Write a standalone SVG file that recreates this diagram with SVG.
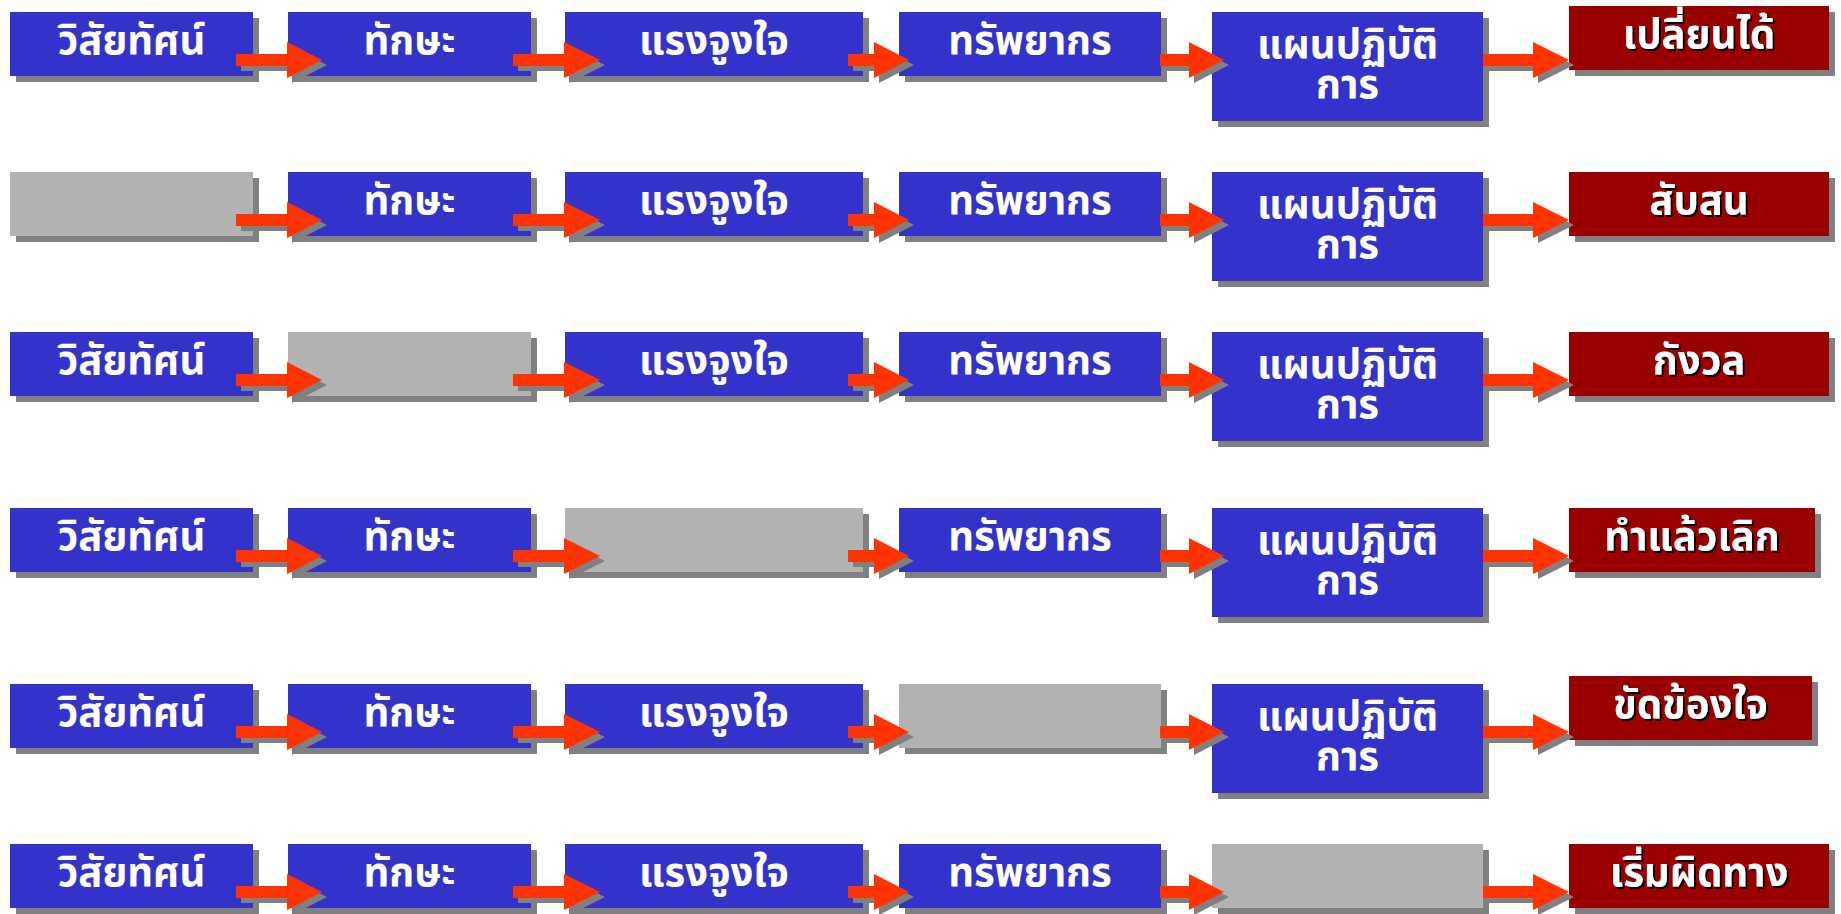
<svg xmlns="http://www.w3.org/2000/svg" xmlns:xlink="http://www.w3.org/1999/xlink" width="1841" height="914" viewBox="0 0 1841 914">
  <style>
    .sh { fill: #808080; }
    .blue { fill: #3333cc; }
    .gray { fill: #b2b2b2; }
    .red { fill: #990000; }
    .arrow { fill: #ff3300; }
    .t { font-family: Tahoma, "Noto Sans Thai", "Loma", "Garuda", "Noto Sans", "DejaVu Sans", sans-serif; font-weight: bold; font-size: 40px; fill: #ffffff; text-anchor: middle; }
    .rt { filter: url(#txtShadow); }
  </style>
  <defs>
    <filter id="txtShadow" x="-10%" y="-20%" width="130%" height="150%">
      <feDropShadow dx="2" dy="2" stdDeviation="0" flood-color="#000000" flood-opacity="1"/>
    </filter>
    <!-- arrow shapes between column pairs, drawn at row offset 0 -->
    <path id="a1" d="M236 42H287V30L322 48L287 66V54H236Z"/>
    <path id="a2" d="M513 42H564V30L600 48L564 66V54H513Z"/>
    <path id="a3" d="M848 42H874V30L909 48L874 66V54H848Z"/>
    <path id="a4" d="M1160 42H1189V30L1224 48L1189 66V54H1160Z"/>
    <path id="a5" d="M1483 42H1533V30L1569 48L1533 66V54H1483Z"/>
  </defs>

  <!-- ===== Row 1 ===== -->
  <g id="r1-vision"><rect class="sh" x="16" y="18" width="243" height="64"/><rect class="blue" x="10" y="12" width="243" height="64"/><text class="t" x="131.5" y="54">วิสัยทัศน์</text></g>
  <g id="r1-skill"><rect class="sh" x="294" y="18" width="243" height="64"/><rect class="blue" x="288" y="12" width="243" height="64"/><text class="t" x="409.5" y="54">ทักษะ</text></g>
  <g id="r1-motivation"><rect class="sh" x="571" y="18" width="298" height="64"/><rect class="blue" x="565" y="12" width="298" height="64"/><text class="t" x="714" y="54">แรงจูงใจ</text></g>
  <g id="r1-resources"><rect class="sh" x="905" y="18" width="262" height="64"/><rect class="blue" x="899" y="12" width="262" height="64"/><text class="t" x="1030" y="54">ทรัพยากร</text></g>
  <g id="r1-plan"><rect class="sh" x="1218" y="18" width="271" height="109"/><rect class="blue" x="1212" y="12" width="271" height="109"/><text class="t" x="1347.5" y="58">แผนปฏิบัติ<tspan x="1347.5" dy="40">การ</tspan></text></g>
  <g id="r1-result"><rect class="sh" x="1575" y="12" width="260" height="64"/><rect class="red" x="1569" y="6" width="260" height="64"/><text class="t rt" x="1699" y="48">เปลี่ยนได้</text></g>

  <!-- ===== Row 2 ===== -->
  <g id="r2-vision"><rect class="sh" x="16" y="178" width="243" height="64"/><rect class="gray" x="10" y="172" width="243" height="64"/></g>
  <g id="r2-skill"><rect class="sh" x="294" y="178" width="243" height="64"/><rect class="blue" x="288" y="172" width="243" height="64"/><text class="t" x="409.5" y="214">ทักษะ</text></g>
  <g id="r2-motivation"><rect class="sh" x="571" y="178" width="298" height="64"/><rect class="blue" x="565" y="172" width="298" height="64"/><text class="t" x="714" y="214">แรงจูงใจ</text></g>
  <g id="r2-resources"><rect class="sh" x="905" y="178" width="262" height="64"/><rect class="blue" x="899" y="172" width="262" height="64"/><text class="t" x="1030" y="214">ทรัพยากร</text></g>
  <g id="r2-plan"><rect class="sh" x="1218" y="178" width="271" height="109"/><rect class="blue" x="1212" y="172" width="271" height="109"/><text class="t" x="1347.5" y="218">แผนปฏิบัติ<tspan x="1347.5" dy="40">การ</tspan></text></g>
  <g id="r2-result"><rect class="sh" x="1575" y="178" width="260" height="64"/><rect class="red" x="1569" y="172" width="260" height="64"/><text class="t rt" x="1699" y="214">สับสน</text></g>

  <!-- ===== Row 3 ===== -->
  <g id="r3-vision"><rect class="sh" x="16" y="338" width="243" height="64"/><rect class="blue" x="10" y="332" width="243" height="64"/><text class="t" x="131.5" y="374">วิสัยทัศน์</text></g>
  <g id="r3-skill"><rect class="sh" x="294" y="338" width="243" height="64"/><rect class="gray" x="288" y="332" width="243" height="64"/></g>
  <g id="r3-motivation"><rect class="sh" x="571" y="338" width="298" height="64"/><rect class="blue" x="565" y="332" width="298" height="64"/><text class="t" x="714" y="374">แรงจูงใจ</text></g>
  <g id="r3-resources"><rect class="sh" x="905" y="338" width="262" height="64"/><rect class="blue" x="899" y="332" width="262" height="64"/><text class="t" x="1030" y="374">ทรัพยากร</text></g>
  <g id="r3-plan"><rect class="sh" x="1218" y="338" width="271" height="109"/><rect class="blue" x="1212" y="332" width="271" height="109"/><text class="t" x="1347.5" y="378">แผนปฏิบัติ<tspan x="1347.5" dy="40">การ</tspan></text></g>
  <g id="r3-result"><rect class="sh" x="1575" y="338" width="260" height="64"/><rect class="red" x="1569" y="332" width="260" height="64"/><text class="t rt" x="1699" y="374">กังวล</text></g>

  <!-- ===== Row 4 ===== -->
  <g id="r4-vision"><rect class="sh" x="16" y="514" width="243" height="64"/><rect class="blue" x="10" y="508" width="243" height="64"/><text class="t" x="131.5" y="550">วิสัยทัศน์</text></g>
  <g id="r4-skill"><rect class="sh" x="294" y="514" width="243" height="64"/><rect class="blue" x="288" y="508" width="243" height="64"/><text class="t" x="409.5" y="550">ทักษะ</text></g>
  <g id="r4-motivation"><rect class="sh" x="571" y="514" width="298" height="64"/><rect class="gray" x="565" y="508" width="298" height="64"/></g>
  <g id="r4-resources"><rect class="sh" x="905" y="514" width="262" height="64"/><rect class="blue" x="899" y="508" width="262" height="64"/><text class="t" x="1030" y="550">ทรัพยากร</text></g>
  <g id="r4-plan"><rect class="sh" x="1218" y="514" width="271" height="109"/><rect class="blue" x="1212" y="508" width="271" height="109"/><text class="t" x="1347.5" y="554">แผนปฏิบัติ<tspan x="1347.5" dy="40">การ</tspan></text></g>
  <g id="r4-result"><rect class="sh" x="1575" y="514" width="246" height="64"/><rect class="red" x="1569" y="508" width="246" height="64"/><text class="t rt" x="1692" y="550">ทำแล้วเลิก</text></g>

  <!-- ===== Row 5 ===== -->
  <g id="r5-vision"><rect class="sh" x="16" y="690" width="243" height="64"/><rect class="blue" x="10" y="684" width="243" height="64"/><text class="t" x="131.5" y="726">วิสัยทัศน์</text></g>
  <g id="r5-skill"><rect class="sh" x="294" y="690" width="243" height="64"/><rect class="blue" x="288" y="684" width="243" height="64"/><text class="t" x="409.5" y="726">ทักษะ</text></g>
  <g id="r5-motivation"><rect class="sh" x="571" y="690" width="298" height="64"/><rect class="blue" x="565" y="684" width="298" height="64"/><text class="t" x="714" y="726">แรงจูงใจ</text></g>
  <g id="r5-resources"><rect class="sh" x="905" y="690" width="262" height="64"/><rect class="gray" x="899" y="684" width="262" height="64"/></g>
  <g id="r5-plan"><rect class="sh" x="1218" y="690" width="271" height="109"/><rect class="blue" x="1212" y="684" width="271" height="109"/><text class="t" x="1347.5" y="730">แผนปฏิบัติ<tspan x="1347.5" dy="40">การ</tspan></text></g>
  <g id="r5-result"><rect class="sh" x="1575" y="682" width="243" height="64"/><rect class="red" x="1569" y="676" width="243" height="64"/><text class="t rt" x="1690.5" y="718">ขัดข้องใจ</text></g>

  <!-- ===== Row 6 ===== -->
  <g id="r6-vision"><rect class="sh" x="16" y="850" width="243" height="64"/><rect class="blue" x="10" y="844" width="243" height="64"/><text class="t" x="131.5" y="886">วิสัยทัศน์</text></g>
  <g id="r6-skill"><rect class="sh" x="294" y="850" width="243" height="64"/><rect class="blue" x="288" y="844" width="243" height="64"/><text class="t" x="409.5" y="886">ทักษะ</text></g>
  <g id="r6-motivation"><rect class="sh" x="571" y="850" width="298" height="64"/><rect class="blue" x="565" y="844" width="298" height="64"/><text class="t" x="714" y="886">แรงจูงใจ</text></g>
  <g id="r6-resources"><rect class="sh" x="905" y="850" width="262" height="64"/><rect class="blue" x="899" y="844" width="262" height="64"/><text class="t" x="1030" y="886">ทรัพยากร</text></g>
  <g id="r6-plan"><rect class="sh" x="1218" y="850" width="271" height="64"/><rect class="gray" x="1212" y="844" width="271" height="64"/></g>
  <g id="r6-result"><rect class="sh" x="1575" y="850" width="260" height="64"/><rect class="red" x="1569" y="844" width="260" height="64"/><text class="t rt" x="1699" y="886">เริ่มผิดทาง</text></g>

  <!-- ===== Connectors: block arrows with offset shadows ===== -->
  <g id="connectors">
    <g id="row1-arrows" transform="translate(0 12)">
      <use xlink:href="#a1" class="sh" x="5" y="5"/><use xlink:href="#a1" class="arrow"/>
      <use xlink:href="#a2" class="sh" x="5" y="5"/><use xlink:href="#a2" class="arrow"/>
      <use xlink:href="#a3" class="sh" x="5" y="5"/><use xlink:href="#a3" class="arrow"/>
      <use xlink:href="#a4" class="sh" x="5" y="5"/><use xlink:href="#a4" class="arrow"/>
      <use xlink:href="#a5" class="sh" x="5" y="5"/><use xlink:href="#a5" class="arrow"/>
    </g>
    <g id="row2-arrows" transform="translate(0 172)">
      <use xlink:href="#a1" class="sh" x="5" y="5"/><use xlink:href="#a1" class="arrow"/>
      <use xlink:href="#a2" class="sh" x="5" y="5"/><use xlink:href="#a2" class="arrow"/>
      <use xlink:href="#a3" class="sh" x="5" y="5"/><use xlink:href="#a3" class="arrow"/>
      <use xlink:href="#a4" class="sh" x="5" y="5"/><use xlink:href="#a4" class="arrow"/>
      <use xlink:href="#a5" class="sh" x="5" y="5"/><use xlink:href="#a5" class="arrow"/>
    </g>
    <g id="row3-arrows" transform="translate(0 332)">
      <use xlink:href="#a1" class="sh" x="5" y="5"/><use xlink:href="#a1" class="arrow"/>
      <use xlink:href="#a2" class="sh" x="5" y="5"/><use xlink:href="#a2" class="arrow"/>
      <use xlink:href="#a3" class="sh" x="5" y="5"/><use xlink:href="#a3" class="arrow"/>
      <use xlink:href="#a4" class="sh" x="5" y="5"/><use xlink:href="#a4" class="arrow"/>
      <use xlink:href="#a5" class="sh" x="5" y="5"/><use xlink:href="#a5" class="arrow"/>
    </g>
    <g id="row4-arrows" transform="translate(0 508)">
      <use xlink:href="#a1" class="sh" x="5" y="5"/><use xlink:href="#a1" class="arrow"/>
      <use xlink:href="#a2" class="sh" x="5" y="5"/><use xlink:href="#a2" class="arrow"/>
      <use xlink:href="#a3" class="sh" x="5" y="5"/><use xlink:href="#a3" class="arrow"/>
      <use xlink:href="#a4" class="sh" x="5" y="5"/><use xlink:href="#a4" class="arrow"/>
      <use xlink:href="#a5" class="sh" x="5" y="5"/><use xlink:href="#a5" class="arrow"/>
    </g>
    <g id="row5-arrows" transform="translate(0 684)">
      <use xlink:href="#a1" class="sh" x="5" y="5"/><use xlink:href="#a1" class="arrow"/>
      <use xlink:href="#a2" class="sh" x="5" y="5"/><use xlink:href="#a2" class="arrow"/>
      <use xlink:href="#a3" class="sh" x="5" y="5"/><use xlink:href="#a3" class="arrow"/>
      <use xlink:href="#a4" class="sh" x="5" y="5"/><use xlink:href="#a4" class="arrow"/>
      <use xlink:href="#a5" class="sh" x="5" y="5"/><use xlink:href="#a5" class="arrow"/>
    </g>
    <g id="row6-arrows" transform="translate(0 844)">
      <use xlink:href="#a1" class="sh" x="5" y="5"/><use xlink:href="#a1" class="arrow"/>
      <use xlink:href="#a2" class="sh" x="5" y="5"/><use xlink:href="#a2" class="arrow"/>
      <use xlink:href="#a3" class="sh" x="5" y="5"/><use xlink:href="#a3" class="arrow"/>
      <use xlink:href="#a4" class="sh" x="5" y="5"/><use xlink:href="#a4" class="arrow"/>
      <use xlink:href="#a5" class="sh" x="5" y="5"/><use xlink:href="#a5" class="arrow"/>
    </g>
  </g>
</svg>
